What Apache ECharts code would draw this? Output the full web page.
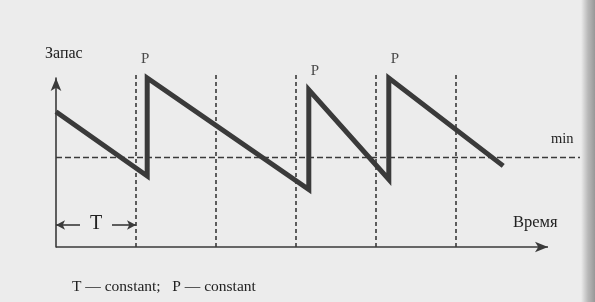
<!DOCTYPE html>
<html><head><meta charset="utf-8">
<script src="https://cdn.jsdelivr.net/npm/echarts@6/dist/echarts.min.js"></script>
<style>html,body{margin:0;padding:0;background:#ececec}#c{width:595px;height:302px}</style>
</head><body><div id="c"></div>
<script>
// time in units of T (review period), stock in relative units (0..100)
const stockTimes = [0, 1.14, 1.14, 3.16, 3.16, 4.16, 4.16, 5.59];
const stockValues = [80, 42, 100, 34, 93, 40, 100, 48];
const peakTimes = [1.14, 3.16, 4.16];
const peakValues = [100, 93, 100];
const periodMarks = [1, 2, 3, 4, 5];
const periodLineTop = 102;
const minLevel = 53;
const minLineEnd = 6.55;
const timeAxisEnd = 6.15;
const labels = { y: 'Запас', x: 'Время', min: 'min', peak: 'P', period: 'T', caption: 'T — constant;   P — constant' };

const ink = '#3a3a3a';
const font = '"Liberation Serif", "DejaVu Serif", serif';
const chart = echarts.init(document.getElementById('c'), null, { renderer: 'canvas' });

const stockData = stockTimes.map((t, i) => [t, stockValues[i]]);
const peakData = peakTimes.map((t, i) => ({ value: [t, peakValues[i]], label: { offset: [i === 0 ? -2 : 6, 0] } }));
const dashStyle = { color: ink, type: [4, 3], width: 1.6 };

const periodSeries = periodMarks.map(k => ({
  type: 'line', data: [[k, 0], [k, periodLineTop]], clip: false, symbol: 'none', silent: true,
  lineStyle: dashStyle
}));

chart.setOption({
  backgroundColor: '#ececec',
  animation: false,
  grid: { left: 56, right: 15, top: 78, bottom: 55 },
  xAxis: {
    type: 'value', min: 0, max: minLineEnd,
    axisLine: { show: false },
    axisTick: { show: false }, axisLabel: { show: false }, splitLine: { show: false }
  },
  yAxis: {
    type: 'value', min: 0, max: 100,
    axisLine: { lineStyle: { color: ink, width: 1.6 }, symbol: ['none', 'arrow'], symbolSize: [8, 13] },
    axisTick: { show: false }, axisLabel: { show: false }, splitLine: { show: false }
  },
  series: periodSeries.concat([
    {
      type: 'line', data: [[0, minLevel], [minLineEnd, minLevel]], clip: false, symbol: 'none', silent: true,
      lineStyle: { color: ink, type: [6, 3], width: 1.6 }
    },
    {
      type: 'line', data: [], clip: false, silent: true,
      markLine: {
        silent: true, label: { show: false },
        lineStyle: { color: ink, type: 'solid', width: 1.6 },
        data: [
          [{ coord: [0, 0], symbol: 'none' }, { coord: [timeAxisEnd, 0], symbol: 'arrow', symbolSize: [8, 13] }],
          [{ coord: [0, 13], symbol: 'arrow', symbolSize: [7, 9] }, { coord: [0.3, 13], symbol: 'none' }],
          [{ coord: [0.7, 13], symbol: 'none' }, { coord: [1, 13], symbol: 'arrow', symbolSize: [7, 9] }]
        ]
      }
    },
    {
      type: 'line', data: stockData, clip: false, symbol: 'none',
      lineStyle: { color: ink, width: 5, join: 'miter', miterLimit: 10, cap: 'butt' }
    },
    {
      type: 'scatter', data: peakData, symbolSize: 0.1, clip: false,
      itemStyle: { color: 'transparent' },
      label: { show: true, formatter: labels.peak, position: 'top', distance: 11,
        color: '#222', fontFamily: font, fontSize: 15 }
    }
  ]),
  graphic: [
    { type: 'rect', right: 0, top: 0, shape: { width: 14, height: 302 },
      style: { fill: new echarts.graphic.LinearGradient(0, 0, 1, 0, [
        { offset: 0, color: 'rgba(150,150,150,0)' }, { offset: 0.5, color: 'rgba(150,150,150,0.6)' }, { offset: 1, color: 'rgba(130,130,130,0.8)' }]) } },
    { type: 'text', left: 45, top: 46, style: { text: labels.y, font: '16px ' + font, fill: '#222' } },
    { type: 'text', left: 513, top: 214, style: { text: labels.x, font: '16.5px ' + font, fill: '#222' } },
    { type: 'text', left: 551, top: 132, style: { text: labels.min, font: '14.5px ' + font, fill: '#222' } },
    { type: 'text', left: 90, top: 214, style: { text: labels.period, font: '20px ' + font, fill: '#222' } },
    { type: 'text', left: 72, top: 279, style: { text: labels.caption, font: '15.5px ' + font, fill: '#222' } }
  ]
});
</script></body></html>
